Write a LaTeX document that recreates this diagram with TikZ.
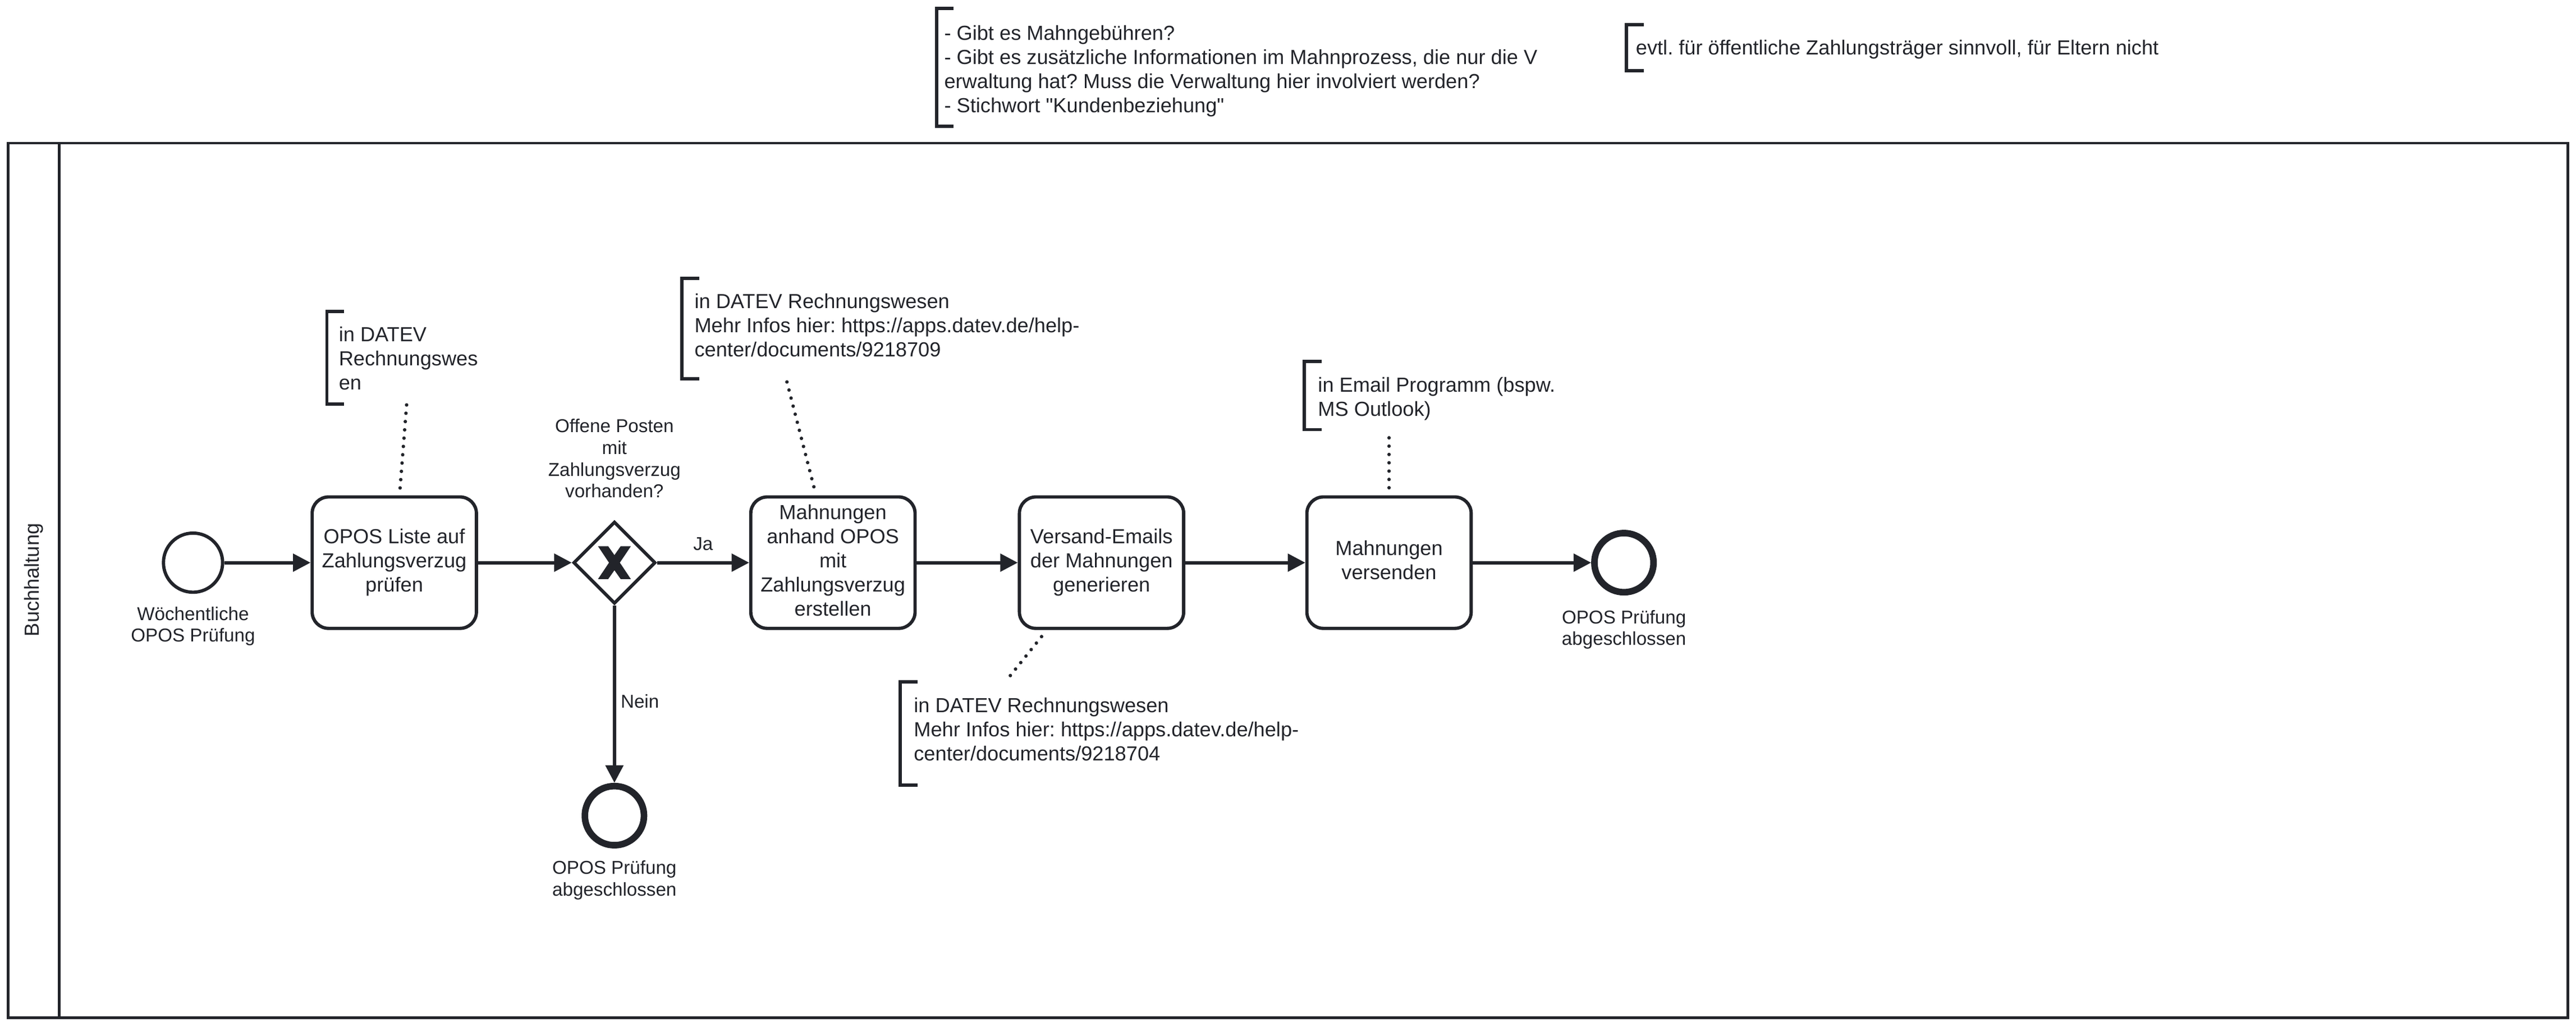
\documentclass[tikz,border=0pt]{standalone}
\usepackage{fontspec}
\setmainfont{Liberation Sans}
\newfontfamily\qfont{Liberation Sans}
\usetikzlibrary{arrows.meta,shapes.geometric}
\definecolor{ink}{HTML}{22242A}
\newcommand\fntTask{\fontsize{9.28}{11}\selectfont\frenchspacing}
\newcommand\fntLabel{\fontsize{8.5}{9.9}\selectfont\frenchspacing}
\newcommand\strq{{\qfont\symbol{34}}}
\begin{document}
\begin{tikzpicture}[x=0.75pt,y=-0.75pt,
  lane/.style={draw=ink, line width=1.1pt},
  bpmntask/.style={draw=ink, line width=1.5pt, rounded corners=7.5pt, minimum width=75pt, minimum height=60pt, inner sep=0pt, align=center, font=\fntTask, text=ink},
  startev/.style={circle, draw=ink, line width=1.5pt, minimum size=27pt, inner sep=0pt},
  endev/.style={circle, draw=ink, line width=3pt, minimum size=27pt, inner sep=0pt},
  gateway/.style={diamond, draw=ink, line width=1.5pt, minimum width=37.5pt, minimum height=37.5pt, inner sep=0pt},
  extlabel/.style={align=center, font=\fntLabel, text=ink, inner sep=0pt},
  annottext/.style={align=left, font=\fntTask, text=ink, inner sep=0pt, anchor=west},
  annotbr/.style={draw=ink, line width=1.5pt},
  flow/.style={draw=ink, line width=1.5pt, -{Triangle[length=8pt,width=8pt]}},
  assoc/.style={draw=ink, line width=1.6pt, line cap=round, dash pattern=on 0pt off 3.8pt}]
\useasboundingbox (0,0) rectangle (1568,625.15);
\fill[white] (0,0) rectangle (1568,625.15);

% lane
\draw[lane] (5,87) rectangle (1563,619.5);
\draw[lane] (36,87) -- (36,619.5);
\node[rotate=90, font=\fntTask, text=ink, inner sep=0pt] (lanelabel) at (20.5,353) {Buchhaltung};

% events, tasks, gateway
\node[startev] (start) at (117.5,342.5) {};
\node[extlabel] (startlbl) at (117.5,381.5) {\strut W\"ochentliche\\\strut OPOS Pr\"ufung};

\node[bpmntask] (t1) at (240,342.5) {\strut OPOS Liste auf\\\strut Zahlungsverzug\\\strut pr\"ufen};
\node[gateway] (gw) at (374,342.5) {};
\fill[ink, shift={(gw.center)}] (-10,-10) -- (-3.8,-10) -- (0,-4.6) -- (3.8,-10) -- (10,-10) -- (3.3,0) -- (10,10) -- (3.8,10) -- (0,4.6) -- (-3.8,10) -- (-10,10) -- (-3.3,0) -- cycle;
\node[extlabel] (gwlbl) at (374,280.5) {\strut Offene Posten\\\strut mit\\\strut Zahlungsverzug\\\strut vorhanden?};

\node[bpmntask] (t2) at (507,342.5) {\strut Mahnungen\\\strut anhand OPOS\\\strut mit\\\strut Zahlungsverzug\\\strut erstellen};
\node[bpmntask] (t3) at (670.5,342.5) {\strut Versand-Emails\\\strut der Mahnungen\\\strut generieren};
\node[bpmntask] (t4) at (845.5,342.5) {\strut Mahnungen\\\strut versenden};

\node[endev] (e1) at (988.5,342.5) {};
\node[extlabel] (e1lbl) at (988.5,383.5) {\strut OPOS Pr\"ufung\\\strut abgeschlossen};
\node[endev] (e2) at (374,496.5) {};
\node[extlabel] (e2lbl) at (374,536) {\strut OPOS Pr\"ufung\\\strut abgeschlossen};

% flows
\draw[flow] (start) -- (t1);
\draw[flow] (t1) -- (gw);
\draw[flow] (gw) -- node[extlabel, pos=0.5, yshift=8.5pt] (ja) {Ja} (t2);
\draw[flow] (t2) -- (t3);
\draw[flow] (t3) -- (t4);
\draw[flow] (t4) -- (e1);
\draw[flow] (gw) -- (e2);
\node[extlabel] (nein) at (389.5,427) {Nein};

% annotations
\draw[annotbr] (580.5,5) -- (570,5) -- (570,77) -- (580.5,77);
\node[annottext] (a0) at (574.5,43.5) {\strut - Gibt es Mahngeb\"uhren?\\\strut - Gibt es zus\"atzliche Informationen im Mahnprozess, die nur die V\\\strut erwaltung hat? Muss die Verwaltung hier involviert werden?\\\strut - Stichwort \strq Kundenbeziehung\strq};

\draw[annotbr] (1000.5,15) -- (990,15) -- (990,43) -- (1000.5,43);
\node[annottext] (a5) at (995.5,30.5) {\strut evtl. f\"ur \"offentliche Zahlungstr\"ager sinnvoll, f\"ur Eltern nicht};

\draw[annotbr] (209.5,189.5) -- (199,189.5) -- (199,246) -- (209.5,246);
\node[annottext] (a1) at (206,219.5) {\strut in DATEV\\\strut Rechnungswes\\\strut en};

\draw[annotbr] (425.5,169.5) -- (415,169.5) -- (415,230.5) -- (425.5,230.5);
\node[annottext] (a2) at (422.5,199.5) {\strut in DATEV Rechnungswesen\\\strut Mehr Infos hier: https://apps.datev.de/help-\\\strut center/documents/9218709};

\draw[annotbr] (558.5,415) -- (548,415) -- (548,478) -- (558.5,478);
\node[annottext] (a3) at (556,445.5) {\strut in DATEV Rechnungswesen\\\strut Mehr Infos hier: https://apps.datev.de/help-\\\strut center/documents/9218704};

\draw[annotbr] (804.5,220) -- (794,220) -- (794,261.5) -- (804.5,261.5);
\node[annottext] (a4) at (802,243) {\strut in Email Programm (bspw.\\\strut MS Outlook)};

% associations
\coordinate (a1s) at (247.5,246.5);
\coordinate (a1e) at (243.5,297.5);
\coordinate (a2s) at (479,232.5);
\coordinate (a2e) at (495.7,297.5);
\coordinate (a3s) at (634,387.5);
\coordinate (a3e) at (614.6,411.7);
\coordinate (a4s) at (845.5,266.5);
\coordinate (a4e) at (845.5,297.5);
\draw[assoc] (a1s) -- (a1e);
\draw[assoc] (a2s) -- (a2e);
\draw[assoc] (a3s) -- (a3e);
\draw[assoc] (a4s) -- (a4e);
\end{tikzpicture}
\end{document}
